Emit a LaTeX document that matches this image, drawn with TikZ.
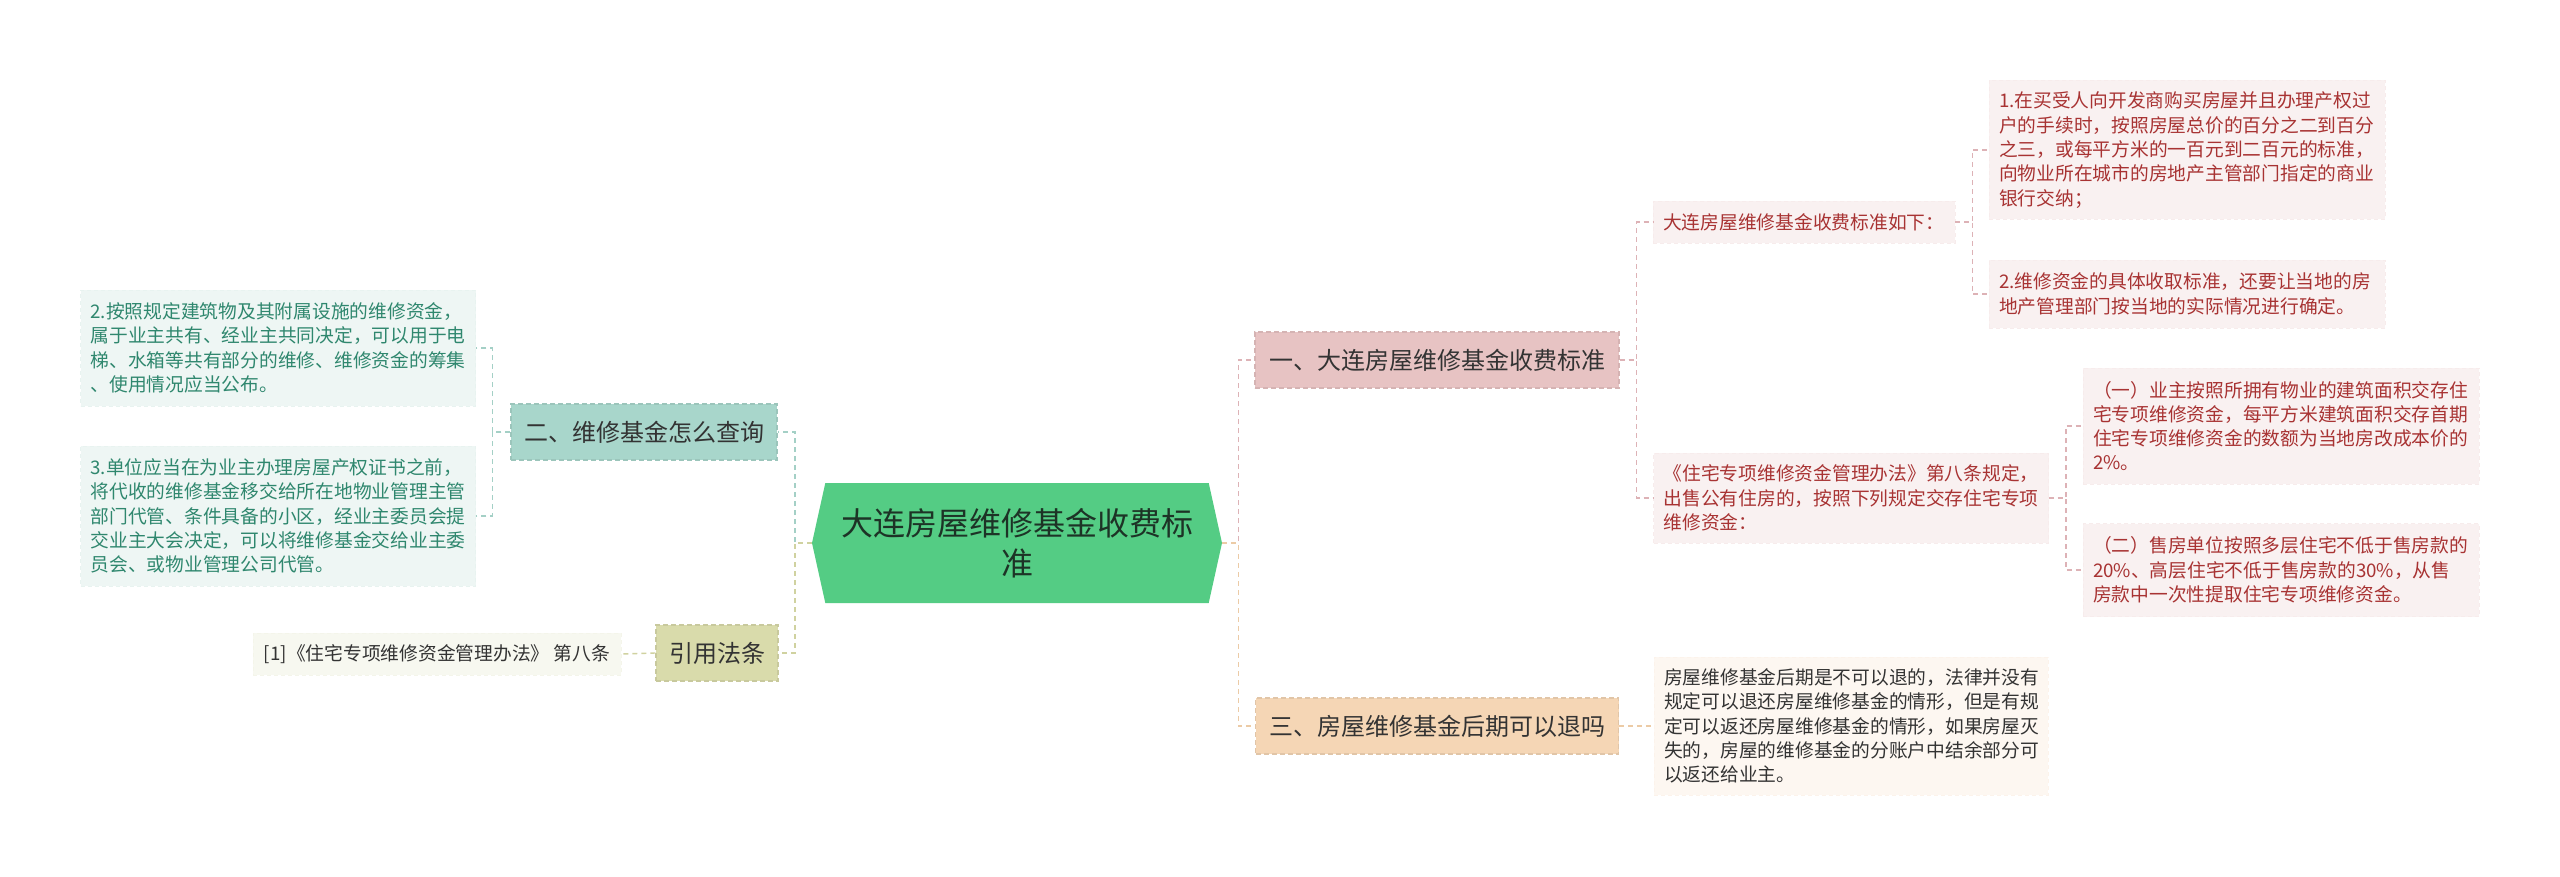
\documentclass[tikz,border=0pt]{standalone}
\usepackage{fontspec}
\setmainfont{Noto Sans CJK SC}
\usepackage{tikz}
\usetikzlibrary{positioning,shapes.symbols}
\definecolor{rootgreen}{HTML}{54CC84}
\definecolor{roottext}{HTML}{1D3326}
\definecolor{darktext}{HTML}{333333}
\definecolor{pinkfill}{HTML}{E7C3C3}
\definecolor{pinkline}{HTML}{DDB2B6}
\definecolor{pinkleaf}{HTML}{F9F1F1}
\definecolor{pinktext}{HTML}{A83333}
\definecolor{peachfill}{HTML}{F5D6B5}
\definecolor{peachline}{HTML}{ECCBA6}
\definecolor{peachleaf}{HTML}{FDF7F1}
\definecolor{tealfill}{HTML}{A8D6CB}
\definecolor{tealline}{HTML}{A4D0C6}
\definecolor{tealleaf}{HTML}{EEF6F4}
\definecolor{tealtext}{HTML}{2F876E}
\definecolor{olivefill}{HTML}{D9DBAB}
\definecolor{oliveline}{HTML}{D0D2A0}
\definecolor{oliveleaf}{HTML}{F7F8F0}

\begin{document}
\begin{tikzpicture}[x=1pt, y=-1pt,
  every node/.style={font=\fontsize{18.75}{24.3}\selectfont},
  branch/.style={rectangle, inner sep=0pt, minimum height=56pt, text=darktext,
    font=\fontsize{24}{28}\selectfont, dash pattern=on 5pt off 3pt, line width=1.2pt},
  leaf/.style={rectangle, inner xsep=10pt, inner ysep=0pt, align=left,
    dash pattern=on 4pt off 3pt, line width=0.6pt},
  link/.style={dash pattern=on 5pt off 4pt, line width=1.4pt}]
  \path[fill=white, use as bounding box] (0,0) rectangle (2560,877);

  \node[signal, signal to=east and west, signal pointer angle=155, fill=rootgreen,
    minimum width=410pt, minimum height=120pt, inner sep=0pt, align=center, text=roottext,
    font=\fontsize{32}{40}\selectfont] (root) at (1017,543) {大连房屋维修基金收费标\\准};

  \node[branch, fill=pinkfill, draw=pinkfill!92!black, minimum width=364pt] (b1) at (1437,360) {一、大连房屋维修基金收费标准};
  \node[branch, fill=peachfill, draw=peachfill!92!black, minimum width=363pt] (b3) at (1437,726) {三、房屋维修基金后期可以退吗};
  \node[branch, fill=tealfill, draw=tealfill!92!black, minimum width=266pt] (b2) at (644,432) {二、维修基金怎么查询};
  \node[branch, fill=olivefill, draw=olivefill!92!black, minimum width=122pt] (b4) at (717,653) {引用法条};

  \node[leaf, fill=pinkleaf, draw=pinkleaf!92!pinkline, text=pinktext, text width=282pt, minimum height=42pt] (a1) at (1804,222) {大连房屋维修基金收费标准如下：};
  \node[leaf, fill=pinkleaf, draw=pinkleaf!92!pinkline, text=pinktext, text width=375pt, minimum height=90pt] (a2) at (1851,498) {《住宅专项维修资金管理办法》第八条规定，\\出售公有住房的，按照下列规定交存住宅专项\\维修资金：};

  \node[leaf, fill=pinkleaf, draw=pinkleaf!92!pinkline, text=pinktext, text width=376pt, minimum height=139pt] (l1) at (2187,150) {1.在买受人向开发商购买房屋并且办理产权过\\户的手续时，按照房屋总价的百分之二到百分\\之三，或每平方米的一百元到二百元的标准，\\向物业所在城市的房地产主管部门指定的商业\\银行交纳；};
  \node[leaf, fill=pinkleaf, draw=pinkleaf!92!pinkline, text=pinktext, text width=376pt, minimum height=68pt] (l2) at (2187,294) {2.维修资金的具体收取标准，还要让当地的房\\地产管理部门按当地的实际情况进行确定。};
  \node[leaf, fill=pinkleaf, draw=pinkleaf!92!pinkline, text=pinktext, text width=376pt, minimum height=116pt] (l3) at (2281,426) {（一）业主按照所拥有物业的建筑面积交存住\\宅专项维修资金，每平方米建筑面积交存首期\\住宅专项维修资金的数额为当地房改成本价的\\2\%。};
  \node[leaf, fill=pinkleaf, draw=pinkleaf!92!pinkline, text=pinktext, text width=376pt, minimum height=93pt] (l4) at (2281,570) {（二）售房单位按照多层住宅不低于售房款的\\20\%、高层住宅不低于售房款的30\%，从售\\房款中一次性提取住宅专项维修资金。};

  \node[leaf, fill=peachleaf, draw=peachleaf!92!peachline, text=darktext, text width=374pt, minimum height=138pt] (c1) at (1851,726) {房屋维修基金后期是不可以退的，法律并没有\\规定可以退还房屋维修基金的情形，但是有规\\定可以返还房屋维修基金的情形，如果房屋灭\\失的，房屋的维修基金的分账户中结余部分可\\以返还给业主。};

  \node[leaf, fill=tealleaf, draw=tealleaf!92!tealline, text=tealtext, text width=375pt, minimum height=116pt] (t1) at (278,348) {2.按照规定建筑物及其附属设施的维修资金，\\属于业主共有、经业主共同决定，可以用于电\\梯、水箱等共有部分的维修、维修资金的筹集\\、使用情况应当公布。};
  \node[leaf, fill=tealleaf, draw=tealleaf!92!tealline, text=tealtext, text width=375pt, minimum height=140pt] (t2) at (278,516) {3.单位应当在为业主办理房屋产权证书之前，\\将代收的维修基金移交给所在地物业管理主管\\部门代管、条件具备的小区，经业主委员会提\\交业主大会决定，可以将维修基金交给业主委\\员会、或物业管理公司代管。};

  \node[leaf, fill=oliveleaf, draw=oliveleaf!92!oliveline, text=darktext, align=center, minimum width=368pt, minimum height=42pt] (r1) at (437,654) {[1]《住宅专项维修资金管理办法》 第八条};

  % connectors
  \draw[link, pinkline] (root.east) -- ++(16,0) |- (b1.west);
  \draw[link, peachline] (root.east) -- ++(16,0) |- (b3.west);
  \draw[link, tealline] (root.west) -- ++(-17,0) |- (b2.east);
  \draw[link, oliveline] (root.west) -- ++(-17,0) |- (b4.east);
  \foreach \c in {a1,a2} \draw[link, pinkline] (b1.east) -- ++(17,0) |- (\c.west);
  \foreach \c in {l1,l2} \draw[link, pinkline] (a1.east) -- ++(17,0) |- (\c.west);
  \foreach \c in {l3,l4} \draw[link, pinkline] (a2.east) -- ++(17,0) |- (\c.west);
  \draw[link, peachline] (b3.east) -- (c1.west);
  \foreach \c in {t1,t2} \draw[link, tealline] (b2.west) -- ++(-18,0) |- (\c.east);
  \draw[link, oliveline] (b4.west) -- (r1.east);
\end{tikzpicture}
\end{document}
